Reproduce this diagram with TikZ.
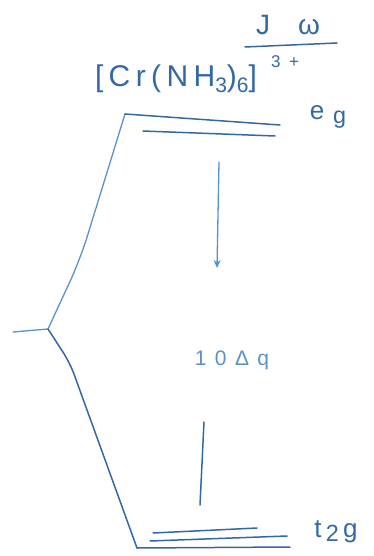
\documentclass[tikz,border=0pt]{standalone}
\usepackage{fontspec}
\usetikzlibrary{arrows.meta}
\setmainfont{Liberation Sans}
\newfontfamily\hand[LetterSpace=18]{Liberation Sans}
\newfontfamily\handwide[LetterSpace=40]{Liberation Sans}
\newcommand\lowsub[1]{\raisebox{-0.4ex}{\scalebox{0.7}{#1}}}
\newcommand\lowsubb[1]{\raisebox{-0.25ex}{\scalebox{0.9}{#1}}}
\definecolor{pen}{RGB}{52,104,165}
\definecolor{penlight}{RGB}{88,146,200}
\begin{document}
\begin{tikzpicture}[x=1pt,y=-1pt,
  ink/.style={draw=pen, line width=1.5pt, line cap=round, line join=round},
  inklight/.style={draw=penlight, line width=1.3pt, line cap=round, line join=round},
  lbl/.style={text=pen, inner sep=0pt, font=\hand}]
\useasboundingbox (0,0) rectangle (373,556);
% label nodes
\node[lbl, font=\hand\fontsize{30}{32}\selectfont] (cplx) at (176,79) {[Cr(NH\lowsub{3})\lowsub{6}]};
\node[lbl, font=\hand\fontsize{17}{18}\selectfont] (chg) at (285,62) {3\,\,\,+};
\node[lbl, font=\hand\fontsize{28}{30}\selectfont] (top) at (288,25) {J\quad ω};
\node[lbl, font=\hand\fontsize{26}{28}\selectfont] (eg) at (328,117) {e\,\,\lowsubb{g}};
\node[lbl, font=\handwide\fontsize{21}{22}\selectfont, text=penlight] (dq) at (232,360) {10Δq};
\node[lbl, font=\hand\fontsize{26}{28}\selectfont] (tg) at (336,532) {t\,\lowsubb{2}\,g};
% coordinates
\coordinate (fa) at (245,47); \coordinate (fb) at (337,43);
\coordinate (stub) at (13,332);
\coordinate (v) at (48,329);
\coordinate (u1) at (80,260);
\coordinate (egc) at (125,114);
\coordinate (ege) at (280,125);
\coordinate (eg2a) at (143,131); \coordinate (eg2b) at (275,136);
\coordinate (l1) at (70,363);
\coordinate (tc) at (137,548); \coordinate (te) at (290,547);
\coordinate (t1a) at (153,533); \coordinate (t1b) at (257,528);
\coordinate (t2a) at (150,541); \coordinate (t2b) at (287,536);
\coordinate (ar1) at (219,162); \coordinate (ar2) at (217,268);
\coordinate (vl1) at (204,422); \coordinate (vl2) at (200,505);
% drawing
\draw[ink] (fa) -- (fb);
\draw[inklight] (stub) -- (v);
\draw[inklight, rounded corners=25pt] (v) -- (u1) -- (egc);
\draw[ink] (egc) -- (ege);
\draw[ink] (eg2a) -- (eg2b);
\draw[ink, rounded corners=12pt] (v) -- (l1) -- (tc);
\draw[ink] (tc) -- (te);
\draw[ink] (t1a) -- (t1b);
\draw[ink] (t2a) -- (t2b);
\draw[inklight, -{Stealth[length=8pt,width=7pt]}] (ar1) -- (ar2);
\draw[ink] (vl1) -- (vl2);
\end{tikzpicture}
\end{document}
